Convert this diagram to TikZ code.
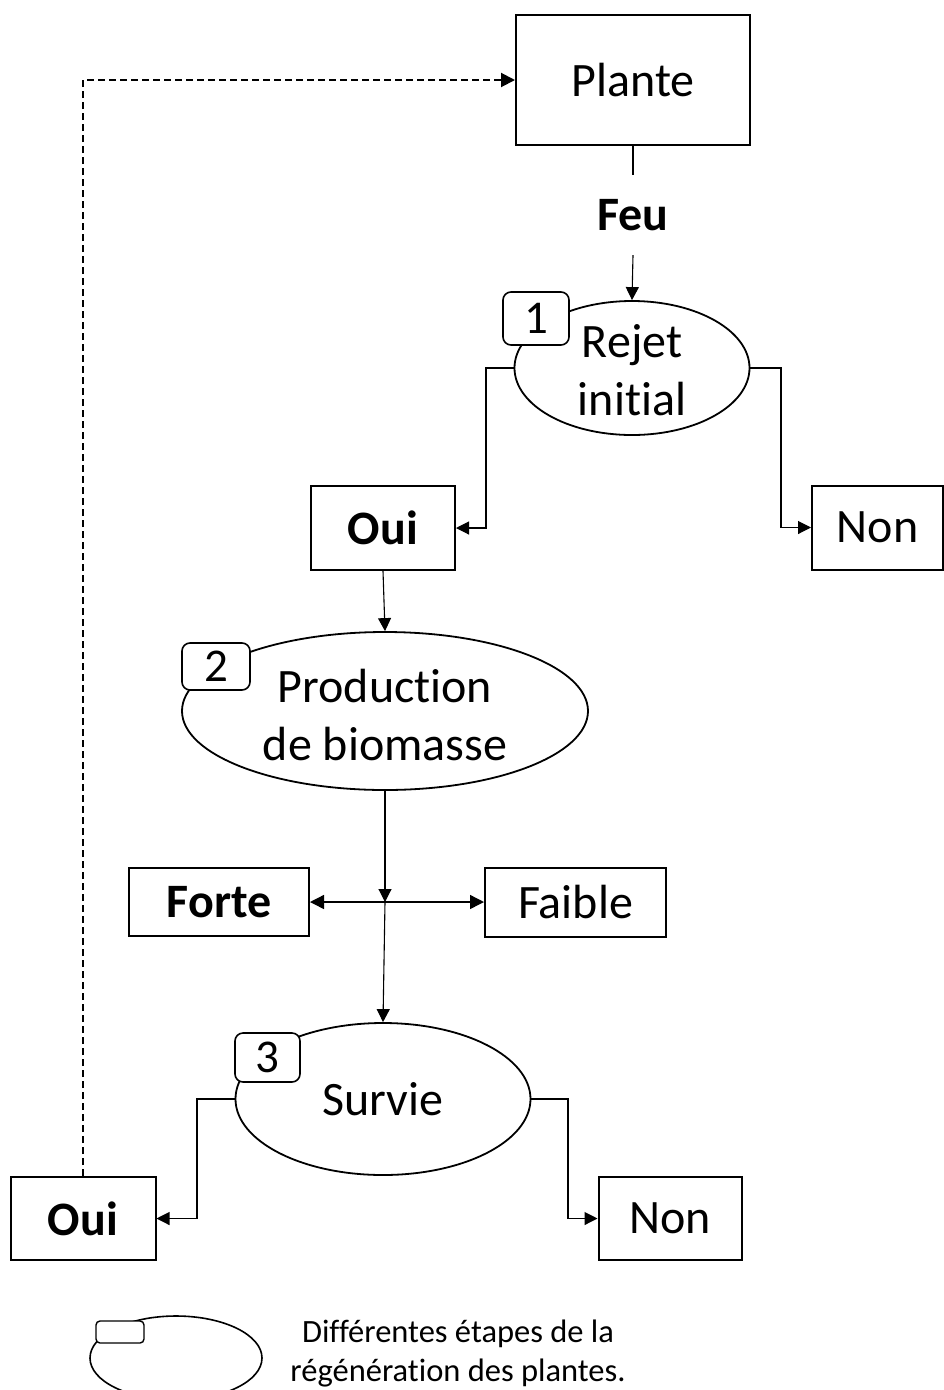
\documentclass[tikz,border=0pt]{standalone}
\usepackage{fontspec}
\setmainfont{Carlito}[Ligatures=NoCommon]
\usetikzlibrary{shapes.geometric,arrows.meta}
\begin{document}
\begin{tikzpicture}[x=1pt,y=-1pt,
  box/.style={draw,line width=2pt,inner sep=0pt,font=\fontsize{48}{58}\selectfont},
  ell/.style={draw,ellipse,line width=1.8pt,inner sep=0pt},
  badge/.style={draw,line width=1.6pt,rounded corners=8pt,fill=white,inner sep=0pt,font=\fontsize{47}{52}\selectfont},
  etext/.style={align=center,inner sep=0pt,font=\fontsize{48}{58}\selectfont},
  conn/.style={line width=1.1pt,-{Triangle[length=13pt,width=13pt]}},
  plain/.style={line width=1.1pt},
  both/.style={line width=1.4pt,{Triangle[length=14pt,width=14pt]}-{Triangle[length=14pt,width=14pt]}},
  dashconn/.style={line width=2pt,dash pattern=on 7pt off 4pt,-{Triangle[length=14pt,width=14pt]}}]
\useasboundingbox (0,0) rectangle (944,1390);
\clip (0,0) rectangle (944,1390);

% main boxes
\node[box,minimum width=234pt,minimum height=130pt] (plante) at (633,80) {Plante};
\node[inner sep=0pt,minimum height=80pt,font=\fontsize{48}{58}\selectfont\bfseries] (feu) at (633,215) {Feu};

\node[ell,minimum width=235pt,minimum height=134pt] (rejet) at (632,368) {};
\node[etext] (rejett) at (632,370) {Rejet\\initial};
\node[badge,minimum width=66pt,minimum height=53pt] (b1) at (536,318.5) {1};

\node[box,minimum width=144pt,minimum height=84pt,font=\fontsize{48}{58}\selectfont\bfseries] (oui1) at (383,528) {Oui};
\node[box,minimum width=131pt,minimum height=84pt] (non1) at (877.5,527.5) {Non};

\node[ell,minimum width=406pt,minimum height=158pt] (prod) at (385,711) {};
\node[etext] (prodt) at (385,715) {Production\\de biomasse};
\node[badge,minimum width=68pt,minimum height=47pt] (b2) at (216,666.5) {2};

\node[box,minimum width=180pt,minimum height=68pt,font=\fontsize{48}{58}\selectfont\bfseries] (forte) at (219,902) {Forte};
\node[box,minimum width=181pt,minimum height=69pt] (faible) at (575.5,902) {Faible};
\coordinate (junc) at (385,902);

\node[ell,minimum width=295pt,minimum height=152pt] (survie) at (383,1099) {};
\node[etext] (survt) at (383,1099) {Survie};
\node[badge,minimum width=65pt,minimum height=49pt] (b3) at (267.5,1057.5) {3};

\node[box,minimum width=145pt,minimum height=83pt,font=\fontsize{48}{58}\selectfont\bfseries] (oui2) at (83,1218.5) {Oui};
\node[box,minimum width=143pt,minimum height=83pt] (non2) at (670,1218.5) {Non};

% connectors
\draw[plain] (plante.south) -- (feu.north);
\draw[conn] (feu.south) -- (rejet.north);
\coordinate (j1) at (486,368);
\coordinate (j2) at (781,368);
\draw[conn] (rejet.west) -- (j1) |- (oui1.east);
\draw[conn] (rejet.east) -- (j2) |- (non1.west);
\draw[conn] (oui1.south) -- (prod.north);
\draw[conn] (prod.south) -- (junc);
\draw[both] (forte.east) -- (faible.west);
\draw[conn] (junc) -- (survie.north);
\coordinate (j3) at (197,1099);
\coordinate (j4) at (568,1099);
\draw[conn] (survie.west) -- (j3) |- (oui2.east);
\draw[conn] (survie.east) -- (j4) |- (non2.west);
\draw[dashconn] (oui2.north) -- (oui2.north |- plante.west) -- (plante.west);

% legend
\node[ell,line width=1.6pt,minimum width=172pt,minimum height=84pt] (lell) at (176,1358) {};
\node[draw,line width=1.4pt,rounded corners=4pt,fill=white,minimum width=48pt,minimum height=22pt,inner sep=0pt] (lbadge) at (120,1332) {};
\node[align=center,inner sep=0pt,font=\fontsize{32.5}{39}\selectfont] (ltext) at (458,1353) {Différentes étapes de la\\régénération des plantes.};
\end{tikzpicture}
\end{document}
